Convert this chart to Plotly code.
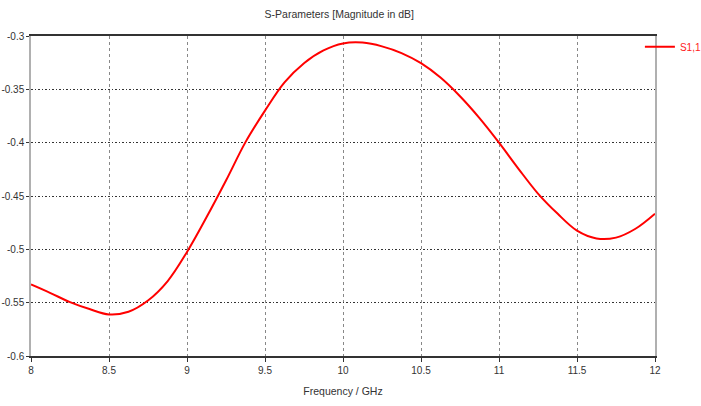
import plotly.graph_objects as go

freq = [8.0, 8.125, 8.25, 8.375, 8.5, 8.625, 8.75, 8.875, 9.0, 9.125, 9.25, 9.375,
        9.5, 9.625, 9.75, 9.875, 10.0, 10.125, 10.25, 10.375, 10.5, 10.625, 10.75, 10.875,
        11.0, 11.125, 11.25, 11.375, 11.5, 11.625, 11.75, 11.875, 12.0]
s11 = [-0.533, -0.541, -0.5495, -0.556, -0.561, -0.5585, -0.548, -0.530, -0.5025,
       -0.470, -0.4355, -0.3995, -0.370, -0.3435, -0.3255, -0.3135, -0.307, -0.3062,
       -0.3097, -0.316, -0.3255, -0.339, -0.3565, -0.377, -0.400, -0.4245, -0.4477,
       -0.4665, -0.4825, -0.4898, -0.489, -0.4807, -0.4666]

x_ticks = [8, 8.5, 9, 9.5, 10, 10.5, 11, 11.5, 12]
x_labels = ["8", "8.5", "9", "9.5", "10", "10.5", "11", "11.5", "12"]
y_ticks = [-0.6, -0.55, -0.5, -0.45, -0.4, -0.35, -0.3]
y_labels = ["-0.6", "-0.55", "-0.5", "-0.45", "-0.4", "-0.35", "-0.3"]

font_family = "Liberation Sans, Arial, sans-serif"

fig = go.Figure()
fig.add_trace(go.Scatter(x=freq, y=s11, mode="lines", name="S1,1",
                         line=dict(color="#ff0000", width=2, shape="spline", smoothing=1)))

fig.update_layout(
    width=701, height=406,
    margin=dict(l=31, r=46, t=36, b=50, autoexpand=False),
    paper_bgcolor="white", plot_bgcolor="white",
    font=dict(family=font_family, size=10, color="#333333"),
    title=dict(text="S-Parameters [Magnitude in dB]", x=0.484, xanchor="center",
               y=0.9655, yanchor="middle", font=dict(size=10.5, color="#333333")),
    showlegend=True,
    legend=dict(x=0.9758, xanchor="left", y=1.012, yanchor="top", bgcolor="rgba(0,0,0,0)",
                font=dict(color="#ff2020", size=10), itemwidth=30,
                tracegroupgap=0),
)
fig.update_xaxes(
    range=[8, 12], tickvals=x_ticks, ticktext=x_labels,
    showline=True, mirror=True, linecolor="#333333", linewidth=1.5,
    showgrid=True, gridcolor="#888888", griddash="3px,3px", gridwidth=1,
    ticks="outside", ticklen=4, tickcolor="#333333",
    zeroline=False, automargin=False,
    title=dict(text="Frequency / GHz", standoff=13, font=dict(size=10.5)),
)
fig.update_yaxes(
    range=[-0.6, -0.3], tickvals=y_ticks, ticktext=y_labels,
    showline=True, mirror=True, linecolor="#b0b0b0", linewidth=1.5,
    showgrid=True, gridcolor="#333333", griddash="1.5px,2px", gridwidth=1,
    ticks="outside", ticklen=3, tickcolor="#333333",
    zeroline=False, automargin=False,
)

fig.write_html("out.html", config={"displayModeBar": False},
               post_script="document.body.style.margin='0';document.body.style.overflow='hidden';")
